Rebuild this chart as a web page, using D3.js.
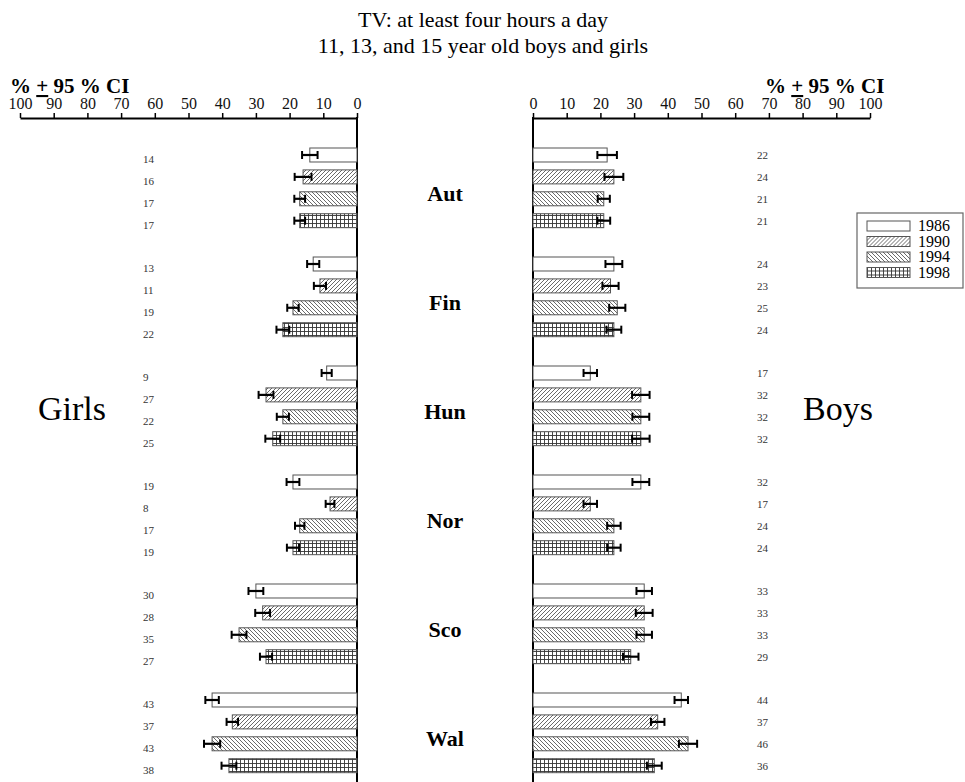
<!DOCTYPE html>
<html>
<head>
<meta charset="utf-8">
<script src="https://cdn.jsdelivr.net/npm/d3@7"></script>
<style>
  body { margin: 0; background: #fff; }
  svg { display: block; font-family: "Liberation Serif", "Times New Roman", serif; }
</style>
</head>
<body>
<div id="chart"></div>
<script>
var countries = ["Aut", "Fin", "Hun", "Nor", "Sco", "Wal"];
var years = ["1986", "1990", "1994", "1998"];
var ticks = [0, 10, 20, 30, 40, 50, 60, 70, 80, 90, 100];

// percentages, one array per survey year, in country order
var girls1986 = [14, 13, 9, 19, 30, 43];
var girls1990 = [16, 11, 27, 8, 28, 37];
var girls1994 = [17, 19, 22, 17, 35, 43];
var girls1998 = [17, 22, 25, 19, 27, 38];
var boys1986 = [22, 24, 17, 32, 33, 44];
var boys1990 = [24, 23, 32, 17, 33, 37];
var boys1994 = [21, 25, 32, 24, 33, 46];
var boys1998 = [21, 24, 32, 24, 29, 36];

// 95 % CI half widths
var girlsCI1986 = [2.3, 1.8, 1.5, 1.9, 2.2, 2.0];
var girlsCI1990 = [2.5, 1.8, 2.2, 1.3, 2.2, 1.7];
var girlsCI1994 = [1.6, 1.7, 1.8, 1.4, 2.2, 2.4];
var girlsCI1998 = [1.6, 1.9, 2.2, 1.8, 1.8, 2.2];
var boysCI1986 = [2.9, 2.5, 2.0, 2.5, 2.3, 2.0];
var boysCI1990 = [2.8, 2.4, 2.6, 2.0, 2.5, 2.0];
var boysCI1994 = [1.8, 2.4, 2.5, 2.0, 2.3, 2.7];
var boysCI1998 = [1.9, 2.2, 2.6, 2.0, 2.3, 2.2];

var girlsByYear = [girls1986, girls1990, girls1994, girls1998],
    boysByYear = [boys1986, boys1990, boys1994, boys1998],
    girlsCIByYear = [girlsCI1986, girlsCI1990, girlsCI1994, girlsCI1998],
    boysCIByYear = [boysCI1986, boysCI1990, boysCI1994, boysCI1998];

var width = 965, height = 782,
    axisY = 118,
    firstBar = 148,
    groupStep = 109;

var rows = [];
countries.forEach(function (c, ci) {
    years.forEach(function (y, yi) {
        rows.push({
            country: c, year: y,
            girls: girlsByYear[yi][ci], girlsCI: girlsCIByYear[yi][ci],
            boys: boysByYear[yi][ci], boysCI: boysCIByYear[yi][ci]
        });
    });
});

var svg = d3.select("#chart").append("svg")
    .attr("width", width)
    .attr("height", height);

// fill patterns
var defs = svg.append("defs");
var fills = { "1986": "#fff" };

var p90 = defs.append("pattern").attr("id", "p1990")
    .attr("patternUnits", "userSpaceOnUse").attr("width", 4).attr("height", 4);
p90.append("rect").attr("width", 4).attr("height", 4).attr("fill", "#fff");
p90.append("path").attr("d", "M-1,1 l2,-2 M0,4 l4,-4 M3,5 l2,-2")
    .attr("stroke", "#444").attr("stroke-width", 0.8);
fills["1990"] = "url(#p1990)";

var p94 = defs.append("pattern").attr("id", "p1994")
    .attr("patternUnits", "userSpaceOnUse").attr("width", 4).attr("height", 4);
p94.append("rect").attr("width", 4).attr("height", 4).attr("fill", "#fff");
p94.append("path").attr("d", "M-1,3 l2,2 M0,0 l4,4 M3,-1 l2,2")
    .attr("stroke", "#444").attr("stroke-width", 0.8);
fills["1994"] = "url(#p1994)";

var p98 = defs.append("pattern").attr("id", "p1998")
    .attr("patternUnits", "userSpaceOnUse").attr("width", 4).attr("height", 4);
p98.append("rect").attr("width", 4).attr("height", 4).attr("fill", "#fff");
p98.append("path").attr("d", "M0.5,0 v4 M0,3.5 h4")
    .attr("stroke", "#333").attr("stroke-width", 0.9);
fills["1998"] = "url(#p1998)";

// scales
var xGirls = d3.scaleLinear().domain([0, 100]).range([357, 20]);
var xBoys = d3.scaleLinear().domain([0, 100]).range([533, 870]);

var yGroup = d3.scaleBand()
    .domain(countries)
    .range([firstBar, firstBar + groupStep * (countries.length - 0.269)])
    .paddingInner(0.269)
    .paddingOuter(0);

var yBar = d3.scaleBand()
    .domain(years)
    .range([0, yGroup.bandwidth()])
    .paddingInner(0.361)
    .paddingOuter(0);

// title
svg.append("text").attr("x", 483).attr("y", 27).attr("text-anchor", "middle")
    .style("font-size", "22px").text("TV: at least four hours a day");
svg.append("text").attr("x", 483).attr("y", 53).attr("text-anchor", "middle")
    .style("font-size", "22px").text("11, 13, and 15 year old boys and girls");

// axes
function styleAxis(g) {
    g.attr("font-family", null);
    g.select(".domain").attr("stroke", "#000").attr("stroke-width", 2);
    g.selectAll(".tick line").attr("stroke", "#000").attr("stroke-width", 1.5);
    g.selectAll(".tick text").style("font-size", "16px").attr("fill", "#111");
}

svg.append("g").attr("transform", "translate(0," + axisY + ")")
    .call(d3.axisTop(xGirls).tickValues(ticks).tickSizeInner(5).tickSizeOuter(0).tickPadding(4))
    .call(styleAxis);
svg.append("g").attr("transform", "translate(0," + axisY + ")")
    .call(d3.axisTop(xBoys).tickValues(ticks).tickSizeInner(5).tickSizeOuter(0).tickPadding(4))
    .call(styleAxis);

svg.append("line").attr("x1", xGirls(0)).attr("x2", xGirls(0))
    .attr("y1", axisY - 1).attr("y2", height).attr("stroke", "#000").attr("stroke-width", 2);
svg.append("line").attr("x1", xBoys(0)).attr("x2", xBoys(0))
    .attr("y1", axisY - 1).attr("y2", height).attr("stroke", "#000").attr("stroke-width", 2);

// "% ± 95 % CI" headings
function ciHeading(x) {
    var t = svg.append("text").attr("x", x).attr("y", 93)
        .style("font-size", "21px").style("font-weight", "bold");
    t.append("tspan").text("% ");
    t.append("tspan").style("text-decoration", "underline").text("+");
    t.append("tspan").text(" 95 % CI");
}
ciHeading(10);
ciHeading(765);

// bars
function rowY(d) { return yGroup(d.country) + yBar(d.year); }
var bh = yBar.bandwidth();

svg.append("g").selectAll("rect").data(rows).enter().append("rect")
    .attr("x", function (d) { return xGirls(d.girls); })
    .attr("y", rowY)
    .attr("width", function (d) { return xGirls(0) - xGirls(d.girls); })
    .attr("height", bh)
    .attr("fill", function (d) { return fills[d.year]; })
    .attr("stroke", "#555").attr("stroke-width", 1);

svg.append("g").selectAll("rect").data(rows).enter().append("rect")
    .attr("x", xBoys(0))
    .attr("y", rowY)
    .attr("width", function (d) { return xBoys(d.boys) - xBoys(0); })
    .attr("height", bh)
    .attr("fill", function (d) { return fills[d.year]; })
    .attr("stroke", "#555").attr("stroke-width", 1);

// error bars
function errorBars(x, key, ciKey) {
    var g = svg.append("g").selectAll("g").data(rows).enter().append("g")
        .attr("transform", function (d) { return "translate(0," + (rowY(d) + bh / 2) + ")"; });
    g.append("line")
        .attr("x1", function (d) { return x(d[key] - d[ciKey]); })
        .attr("x2", function (d) { return x(d[key] + d[ciKey]); })
        .attr("stroke", "#000").attr("stroke-width", 2.2);
    g.append("line")
        .attr("x1", function (d) { return x(d[key] - d[ciKey]); })
        .attr("x2", function (d) { return x(d[key] - d[ciKey]); })
        .attr("y1", -4).attr("y2", 4)
        .attr("stroke", "#000").attr("stroke-width", 2);
    g.append("line")
        .attr("x1", function (d) { return x(d[key] + d[ciKey]); })
        .attr("x2", function (d) { return x(d[key] + d[ciKey]); })
        .attr("y1", -4).attr("y2", 4)
        .attr("stroke", "#000").attr("stroke-width", 2);
}
errorBars(xGirls, "girls", "girlsCI");
errorBars(xBoys, "boys", "boysCI");

// value labels
svg.append("g").selectAll("text").data(rows).enter().append("text")
    .attr("x", 143)
    .attr("y", function (d) { return rowY(d) + bh / 2 + 8; })
    .style("font-size", "11px").attr("fill", "#333")
    .text(function (d) { return d.girls; });
svg.append("g").selectAll("text").data(rows).enter().append("text")
    .attr("x", 757)
    .attr("y", function (d) { return rowY(d) + bh / 2 + 4; })
    .style("font-size", "11px").attr("fill", "#333")
    .text(function (d) { return d.boys; });

// country names
svg.append("g").selectAll("text").data(countries).enter().append("text")
    .attr("x", 445)
    .attr("y", function (d) { return yGroup(d) + yGroup.bandwidth() / 2 + 13; })
    .attr("text-anchor", "middle")
    .style("font-size", "22px").style("font-weight", "bold")
    .text(function (d) { return d; });

// side labels
svg.append("text").attr("x", 72).attr("y", 420).attr("text-anchor", "middle")
    .style("font-size", "34px").text("Girls");
svg.append("text").attr("x", 838).attr("y", 420).attr("text-anchor", "middle")
    .style("font-size", "34px").text("Boys");

// legend
var legend = svg.append("g").attr("transform", "translate(857,213)");
legend.append("rect").attr("width", 106).attr("height", 75)
    .attr("fill", "#fff").attr("stroke", "#666").attr("stroke-width", 1.2);
var li = legend.selectAll("g").data(years).enter().append("g")
    .attr("transform", function (d, i) { return "translate(10," + (8 + i * 15.5) + ")"; });
li.append("rect").attr("width", 43).attr("height", 10)
    .attr("fill", function (d) { return fills[d]; })
    .attr("stroke", "#555").attr("stroke-width", 1);
li.append("text").attr("x", 51).attr("y", 10)
    .style("font-size", "16px").text(function (d) { return d; });
</script>
</body>
</html>
